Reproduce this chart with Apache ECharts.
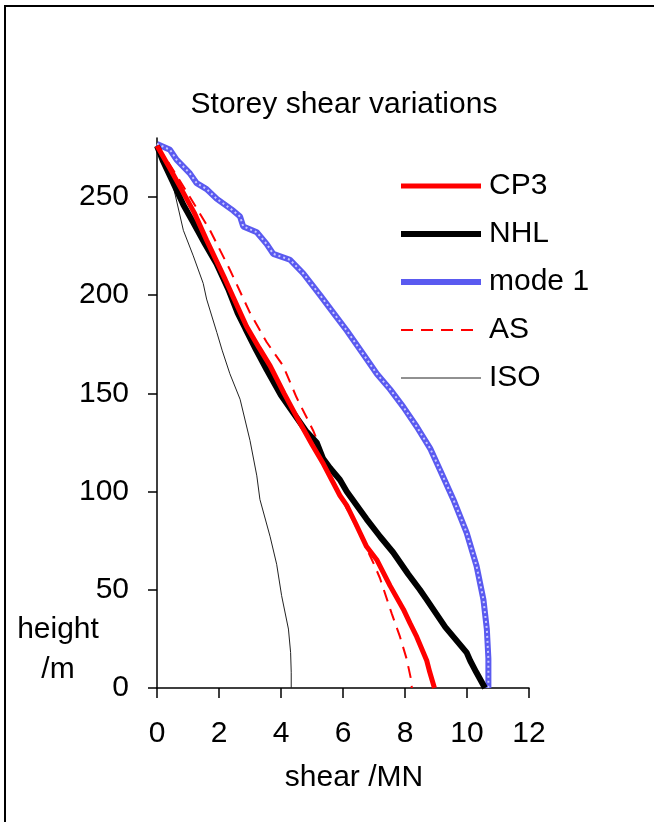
<!DOCTYPE html>
<html>
<head>
<meta charset="utf-8">
<style>
html,body{margin:0;padding:0;background:#fff;}
#chart{width:654px;height:822px;}
</style>
<script src="https://cdn.jsdelivr.net/npm/echarts@6/dist/echarts.min.js"></script>
</head>
<body>
<div id="chart"></div>
<script>
// ---- data: [shear MN, height m] ----
const seriesNames = ['CP3', 'NHL', 'mode 1', 'AS', 'ISO'];
const xTicks = [0, 2, 4, 6, 8, 10, 12];
const yTicks = [0, 50, 100, 150, 200, 250];

const cp3 = [[0,276],[0.4,265],[0.75,255],[1.2,242],[1.6,228],[2.2,208],[2.89,184],[3.3,173],[3.65,164],[4.1,150],[4.61,135],[5.0,124],[5.37,114],[5.9,98],[6.12,93],[6.4,84],[6.76,72],[7.1,65],[7.52,52],[7.95,40],[8.16,33],[8.38,26],[8.7,14],[8.8,8],[8.95,0]];
const nhl = [[0,276],[0.2,268],[0.53,257],[0.85,246],[1.17,237],[1.55,226],[1.92,216],[2.3,203],[2.6,191],[2.85,183],[3.2,172],[3.54,162],[4.0,149],[4.4,140],[4.8,131],[5.15,125],[5.35,117],[5.58,112],[5.9,106],[6.12,100],[6.76,86],[7.2,77],[7.62,69],[8.1,58],[8.48,50],[8.7,45],[9.3,31],[9.99,18],[10.1,14],[10.3,8],[10.58,0]];
const mode1 = [[0,277],[0.42,274],[0.63,269],[1.06,262],[1.28,257],[1.6,254],[1.93,249],[2.46,243],[2.68,240],[2.78,235],[3.22,232],[3.54,226],[3.75,221],[4.29,218],[4.72,211],[5.26,200],[5.69,191],[6.12,182],[6.65,170],[7.09,160],[7.52,152],[7.95,143],[8.38,133],[8.81,122],[9.13,111],[9.56,96],[9.99,79],[10.31,62],[10.53,45],[10.64,30],[10.69,15],[10.69,0]];
const as = [[0,276],[0.35,268],[0.63,261],[1.06,250],[1.71,233],[2.35,213],[3.0,191],[3.54,176],[4.07,164],[4.5,148],[5.04,131],[5.47,114],[5.9,98],[6.3,86],[6.7,73],[7.0,63],[7.19,56],[7.57,38],[7.84,26],[8.05,15],[8.2,4],[8.22,0]];
const iso = [[0,276],[0.15,268],[0.35,261],[0.53,255],[0.85,233],[1.17,220],[1.49,206],[1.6,198],[1.93,181],[2.1,172],[2.35,160],[2.68,147],[3.0,126],[3.22,108],[3.32,96],[3.65,77],[3.86,63],[4.02,47],[4.24,30],[4.31,18],[4.33,8],[4.33,0]];

const FONT = 'Liberation Sans, Arial, sans-serif';
const FS = 30;
const chart = echarts.init(document.getElementById('chart'), null, {renderer: 'canvas'});

function lineSeries(name, data, color, width, type, z) {
  return {
    name: name, type: 'line', data: data, showSymbol: false, symbol: 'none',
    smooth: false, animation: false, z: z,
    lineStyle: {color: color, width: width, type: type},
    itemStyle: {color: color}
  };
}

const option = {
  animation: false,
  backgroundColor: '#fff',
  title: {
    text: 'Storey shear variations',
    left: 344, top: 90, textAlign: 'center', padding: 0,
    textStyle: {fontFamily: FONT, fontSize: FS, fontWeight: 'normal', color: '#000'}
  },
  grid: {left: 157, right: 125, top: 138, bottom: 134, containLabel: false},
  legend: {
    orient: 'vertical', left: 398, top: 171, padding: 0,
    itemWidth: 80, itemHeight: 14, itemGap: 18,
    data: seriesNames,
    itemStyle: {opacity: 0},
    lineStyle: {width: 'inherit', type: 'inherit', color: 'inherit'},
    textStyle: {fontFamily: FONT, fontSize: FS, color: '#000', padding: [0, 0, 0, 3]},
    selectedMode: false
  },
  xAxis: {
    type: 'value', min: 0, max: 12, interval: 2,
    splitLine: {show: false},
    axisLine: {onZero: false, lineStyle: {color: '#000', width: 1.5}},
    axisTick: {show: true, length: 10, inside: false, lineStyle: {color: '#000', width: 1.5}},
    axisLabel: {margin: 31, fontFamily: FONT, fontSize: FS, color: '#000', customValues: xTicks}
  },
  yAxis: {
    type: 'value', min: 0, max: 280, interval: 50,
    splitLine: {show: false},
    axisLine: {show: true, onZero: false, lineStyle: {color: '#000', width: 1.5}},
    axisTick: {show: true, length: 9, inside: false, lineStyle: {color: '#000', width: 1.5}, customValues: yTicks},
    axisLabel: {margin: 28, fontFamily: FONT, fontSize: FS, color: '#000', customValues: yTicks}
  },
  graphic: [
    {type: 'rect', shape: {x: 5, y: 6, width: 720, height: 900}, style: {fill: 'none', stroke: '#000', lineWidth: 2}, silent: true},
    {type: 'text', x: 58, y: 630, style: {text: 'height', fontFamily: FONT, fontSize: FS, fill: '#000', align: 'center', verticalAlign: 'middle'}},
    {type: 'text', x: 58, y: 670, style: {text: '/m', fontFamily: FONT, fontSize: FS, fill: '#000', align: 'center', verticalAlign: 'middle'}},
    {type: 'text', x: 354, y: 778, style: {text: 'shear /MN', fontFamily: FONT, fontSize: FS, fill: '#000', align: 'center', verticalAlign: 'middle'}}
  ],
  series: [
    lineSeries('ISO', iso, '#222222', 1, 'solid', 2),
    lineSeries('AS', as, '#ff0000', 2, [12, 8], 3),
    lineSeries('mode 1', mode1, '#5a5af0', 6, 'solid', 4),
    Object.assign(lineSeries('mode 1 pattern', mode1, '#c8c8ff', 2, [2, 3], 5), {legendHoverLink: false}),
    lineSeries('NHL', nhl, '#000000', 6, 'solid', 6),
    lineSeries('CP3', cp3, '#ff0000', 5, 'solid', 7)
  ]
};
chart.setOption(option);
</script>
</body>
</html>
